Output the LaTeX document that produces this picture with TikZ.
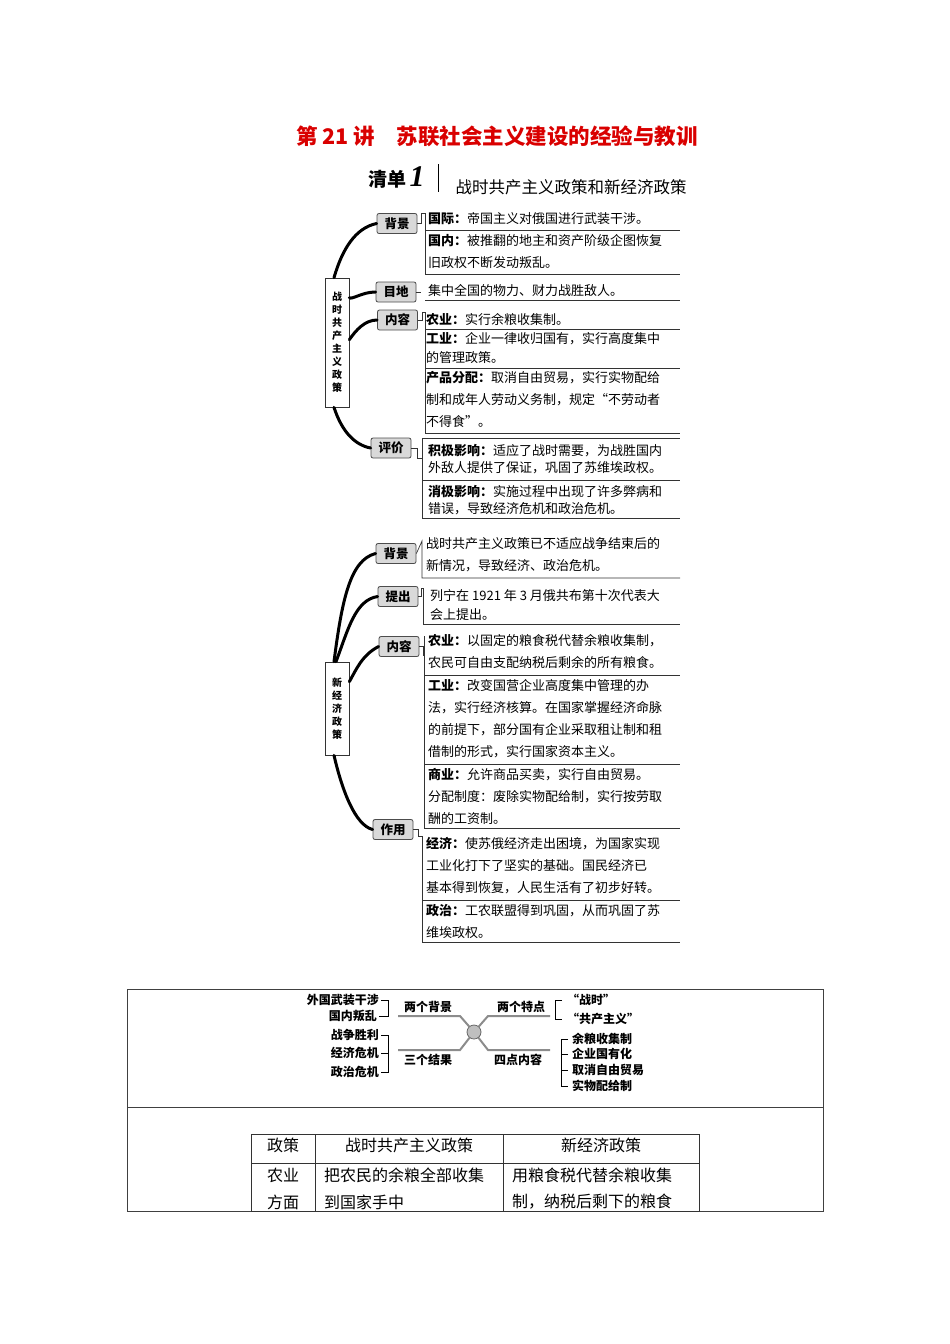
\documentclass[tikz,border=0pt]{standalone}
\usepackage{fontspec}
\setmainfont{Noto Sans CJK SC}
\newfontfamily\serifone{Liberation Serif}
\begin{document}
\begin{tikzpicture}[x=1pt,y=-1pt,
  lab/.style={draw=black!70,fill=black!15,rounded corners=2pt,line width=0.8pt,minimum width=40pt,minimum height=20pt,inner sep=0pt,font=\fontsize{12.5}{12.5}\selectfont\bfseries},
  cbox/.style={draw=black!80,fill=white,line width=0.7pt,inner sep=0pt,minimum width=24pt,align=center,font=\fontsize{10}{13}\selectfont\bfseries},
  txt/.style={anchor=north west,inner sep=0pt,align=left,font=\fontsize{13}{22}\selectfont},
  br/.style={line width=3pt,line cap=round},
  rl/.style={line width=0.7pt,draw=black!80},
  mm/.style={line width=2pt,draw=black!45},
  sm/.style={font=\fontsize{12}{12}\selectfont\bfseries,inner sep=0pt},
  tb/.style={font=\fontsize{16}{16}\selectfont,inner sep=0pt}]
\useasboundingbox (0,0) rectangle (950,1344);
% title
\node[font=\fontsize{21.5}{21.5}\selectfont\bfseries,text=red!85!black] (title) at (497,136) {第 21 讲\hspace{1em}苏联社会主义建设的经验与教训};
\node[font=\fontsize{19}{19}\selectfont\bfseries,anchor=base west] (qd) at (365,186) {清单\,{\serifone\bfseries\itshape\fontsize{30}{30}\selectfont 1}};
\draw[line width=0.8pt] (438,164) -- (438,192);
\node[font=\fontsize{16.5}{16.5}\selectfont,anchor=base west] (sub) at (452,193) {战时共产主义政策和新经济政策};

% ===== section 1
\node[cbox,minimum height=129pt] (c1) at (337,342.5) {战\\时\\共\\产\\主\\义\\政\\策};
\node[lab] (l1a) at (397,223.5) {背景};
\node[lab] (l1b) at (396,292) {目地};
\node[lab] (l1c) at (397.5,320) {内容};
\node[lab] (l1d) at (391,448) {评价};
\draw[br] ([xshift=-3pt]c1.north) .. controls (342,250) and (355,228) .. (l1a.west);
\draw[br] ([yshift=-20pt]c1.north east) .. controls (352,300) and (362,292) .. (l1b.west);
\draw[br] ([yshift=-62pt]c1.north east) .. controls (356,330) and (365,320) .. (l1c.west);
\draw[br] ([xshift=-3pt]c1.south) .. controls (342,432) and (355,445) .. (l1d.west);

\node[txt] (t1) at (428,212.5) {{\bfseries 国际：}帝国主义对俄国进行武装干涉。};
\node[txt] (t2) at (428,234.5) {{\bfseries 国内：}被推翻的地主和资产阶级企图恢复\\旧政权不断发动叛乱。};
\node[txt] (t3) at (428,284.5) {集中全国的物力、财力战胜敌人。};
\node[txt] (t4) at (426,313.5) {{\bfseries 农业：}实行余粮收集制。};
\node[txt] (t5) at (426,332.5) {{\bfseries 工业：}企业一律收归国有，实行高度集中\\[-3pt]的管理政策。};
\node[txt] (t6) at (426,371.5) {{\bfseries 产品分配：}取消自由贸易，实行实物配给\\制和成年人劳动义务制，规定“不劳动者\\不得食”。};
\node[txt] (t7) at (428,444.5) {{\bfseries 积极影响：}适应了战时需要，为战胜国内\\[-5pt]外敌人提供了保证，巩固了苏维埃政权。};
\node[txt] (t8) at (428,485.5) {{\bfseries 消极影响：}实施过程中出现了许多弊病和\\[-5pt]错误，导致经济危机和政治危机。};
\draw[rl] (l1a.east) -- ++(4,0) |- (425,213);
\draw[rl] (425,213) |- (680,230) (425,230) |- (680,274);
\draw[rl] (425,300) -- (680,300);
\draw[rl] (l1b.east) -- ++(5,0);
\draw[rl] (l1c.east) -- ++(4,0) |- (425,312);
\draw[rl] (425,312) |- (680,329) (425,329) |- (680,368) (425,368) |- (680,433);
\draw[rl] (l1d.east) -- ++(6,0) |- (422,458);
\draw[rl] (422,440) |- (680,438) (422,440) |- (680,480) (422,480) |- (680,518);

% ===== section 2
\node[cbox,minimum height=93pt] (c2) at (337,708.5) {新\\经\\济\\政\\策};
\node[lab] (l2a) at (396,553.5) {背景};
\node[lab] (l2b) at (398,596.5) {提出};
\node[lab] (l2c) at (399,646.5) {内容};
\node[lab] (l2d) at (393,829.5) {作用};
\draw[br] ([xshift=-3pt]c2.north) .. controls (342,600) and (350,560) .. (l2a.west);
\draw[br] ([xshift=-1pt]c2.north) .. controls (348,630) and (355,600) .. (l2b.west);
\draw[br] ([yshift=-20pt]c2.north east) .. controls (356,670) and (362,655) .. (l2c.west);
\draw[br] ([xshift=-3pt]c2.south) .. controls (342,790) and (355,825) .. (l2d.west);

\node[txt] (u1) at (426,537.5) {战时共产主义政策已不适应战争结束后的\\新情况，导致经济、政治危机。};
\node[txt] (u2) at (430,589.5) {列宁在 1921 年 3 月俄共布第十次代表大\\[-3pt]会上提出。};
\node[txt] (u3) at (428,634.5) {{\bfseries 农业：}以固定的粮食税代替余粮收集制，\\农民可自由支配纳税后剩余的所有粮食。};
\node[txt] (u4) at (428,679.5) {{\bfseries 工业：}改变国营企业高度集中管理的办\\法，实行经济核算。在国家掌握经济命脉\\的前提下，部分国有企业采取租让制和租\\借制的形式，实行国家资本主义。};
\node[txt] (u5) at (428,768.5) {{\bfseries 商业：}允许商品买卖，实行自由贸易。\\分配制度：废除实物配给制，实行按劳取\\酬的工资制。};
\node[txt] (u6) at (426,837.5) {{\bfseries 经济：}使苏俄经济走出困境，为国家实现\\工业化打下了坚实的基础。国民经济已\\基本得到恢复，人民生活有了初步好转。};
\node[txt] (u7) at (426,904.5) {{\bfseries 政治：}工农联盟得到巩固，从而巩固了苏\\维埃政权。};
\draw[rl] (l2a.east) -- (422,541) -- (422,578) -- (680,578);
\draw[rl] (l2b.east) -- ++(3,0) |- (423,588);
\draw[rl] (423,588) |- (680,624);
\draw[rl] (l2c.east) -- ++(4,0) |- (424,655);
\draw[rl] (424,636) |- (680,675) (424,675) |- (680,764) (424,764) |- (680,828);
\draw[rl] (l2d.east) -- ++(5,0) |- (422,836);
\draw[rl] (422,836) |- (680,900) (422,900) |- (680,942);

% ===== section 3 frame
\draw[line width=0.7pt,black!75] (127,989) rectangle (823,1211);
\draw[line width=0.7pt,black!75] (127,1107) -- (823,1107);
% mini mind map
\node[circle,draw=black!60,fill=black!25,minimum size=14pt,inner sep=0pt,line width=0.8pt] (cc) at (474,1032) {};
\coordinate (a1) at (460,1016); \coordinate (a2) at (488,1016);
\coordinate (a3) at (460,1050); \coordinate (a4) at (488,1050);
\draw[mm] (398,1016) -- (a1) -- (cc);
\draw[mm] (550,1016) -- (a2) -- (cc);
\draw[mm] (398,1050) -- (a3) -- (cc);
\draw[mm] (550,1050) -- (a4) -- (cc);
\node[sm] (m1) at (428,1007) {两个背景};
\node[sm] (m2) at (521,1007) {两个特点};
\node[sm] (m3) at (428,1060) {三个结果};
\node[sm] (m4) at (518,1060) {四点内容};
\node[sm,anchor=east] (p1) at (379,1000) {外国武装干涉};
\node[sm,anchor=east] (p2) at (377,1016) {国内叛乱};
\node[sm,anchor=east] (p3) at (379,1035) {战争胜利};
\node[sm,anchor=east] (p4) at (379,1053) {经济危机};
\node[sm,anchor=east] (p5) at (379,1072) {政治危机};
\draw[line width=0.6pt] ([xshift=2pt]p1.east) -- (388,1000) |- ([xshift=2pt]p2.east);
\draw[line width=0.6pt] ([xshift=2pt]p3.east) -- (388,1035) |- ([xshift=2pt]p5.east) ([xshift=2pt]p4.east) -- (388,1053);
\node[sm,anchor=west] (q1) at (567,1000) {“战时”};
\node[sm,anchor=west] (q2) at (567,1019) {“共产主义”};
\draw[line width=0.6pt] ([xshift=-5pt]q1.west) -- (555,1000) |- ([xshift=-5pt]q2.west);
\node[sm,anchor=west] (q3) at (572,1039) {余粮收集制};
\node[sm,anchor=west] (q4) at (572,1054) {企业国有化};
\node[sm,anchor=west] (q5) at (572,1070) {取消自由贸易};
\node[sm,anchor=west] (q6) at (572,1086) {实物配给制};
\draw[line width=0.6pt] ([xshift=-4pt]q3.west) -- (561,1039) |- ([xshift=-4pt]q6.west) ([xshift=-4pt]q4.west) -- (561,1054) ([xshift=-4pt]q5.west) -- (561,1070);

% table
\draw[line width=0.7pt,black!80] (251,1134) rectangle (699,1211);
\draw[line width=0.7pt,black!80] (251,1163) -- (699,1163) (315,1134) -- (315,1211) (503,1134) -- (503,1211);
\node[tb] (h1) at (283,1145) {政策};
\node[tb] (h2) at (409,1145) {战时共产主义政策};
\node[tb] (h3) at (601,1145) {新经济政策};
\node[tb] (r1) at (283,1175) {农业};
\node[tb] (r2) at (283,1202) {方面};
\node[tb,anchor=west] (r3) at (324,1175) {把农民的余粮全部收集};
\node[tb,anchor=west] (r4) at (324,1202) {到国家手中};
\node[tb,anchor=west] (r5) at (512,1175) {用粮食税代替余粮收集};
\node[tb,anchor=west] (r6) at (512,1202) {制，纳税后剩下的粮食};
\end{tikzpicture}
\end{document}
